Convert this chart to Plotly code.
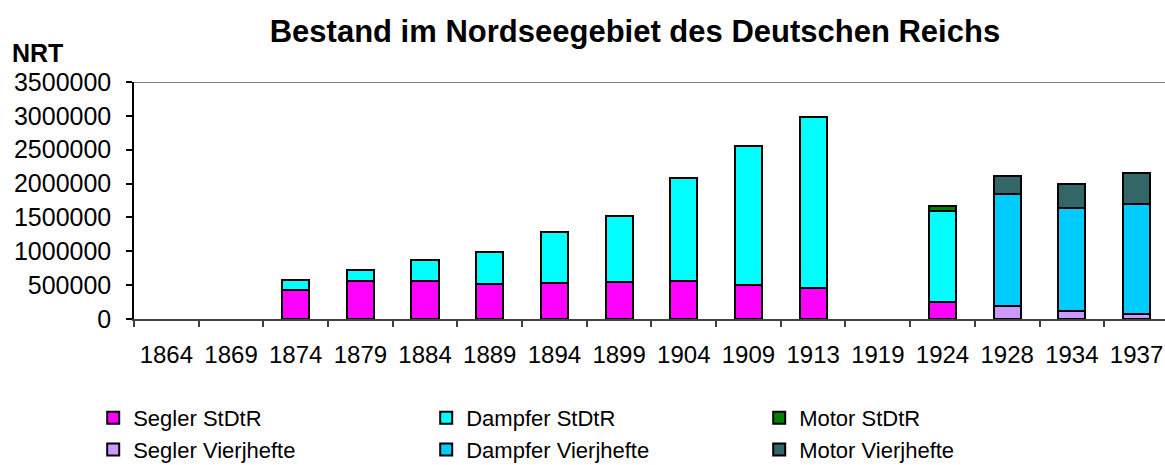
import plotly.graph_objects as go

# Survey years (categories on the x axis)
years = ["1864", "1869", "1874", "1879", "1884", "1889", "1894", "1899",
         "1904", "1909", "1913", "1919", "1924", "1928", "1934", "1937"]

# Tonnage (NRT) by vessel type, Statistik des Deutschen Reichs
segler_stdtr = [None, None, 425000, 560000, 567000, 512000, 537000, 546000,
                557000, 498000, 464000, None, 257000, None, None, None]
dampfer_stdtr = [None, None, 146000, 159000, 300000, 477000, 743000, 971000,
                 1531000, 2063000, 2519000, None, 1333000, None, None, None]
motor_stdtr = [None, None, None, None, None, None, None, None,
               None, None, None, None, 74000, None, None, None]

# Tonnage (NRT) by vessel type, Vierteljahrshefte
segler_vj = [None] * 13 + [188000, 124000, 74000]
dampfer_vj = [None] * 13 + [1658000, 1511000, 1624000]
motor_vj = [None] * 13 + [266000, 359000, 464000]

series = [
    ("Segler StDtR", segler_stdtr, "#FF00FF"),
    ("Dampfer StDtR", dampfer_stdtr, "#00FFFF"),
    ("Motor StDtR", motor_stdtr, "#008000"),
    ("Segler Vierjhefte", segler_vj, "#CC99FF"),
    ("Dampfer Vierjhefte", dampfer_vj, "#00CCFF"),
    ("Motor Vierjhefte", motor_vj, "#336666"),
]

FONT = "Liberation Sans, Arial, sans-serif"

fig = go.Figure()
for name, vals, color in series:
    fig.add_trace(go.Bar(
        x=years, y=vals, name=name,
        marker=dict(color=color, line=dict(color="black", width=2)),
    ))

fig.update_layout(
    width=1165, height=465,
    barmode="stack", bargap=0.58,
    paper_bgcolor="white", plot_bgcolor="white",
    margin=dict(l=134, r=0, t=82, b=146),
    font=dict(family=FONT, size=24, color="black"),
    title=dict(
        text="<b>Bestand im Nordseegebiet des Deutschen Reichs</b>",
        x=0.545, xanchor="center", xref="container",
        y=1 - 31 / 465, yanchor="middle", yref="container",
        font=dict(family=FONT, size=31, color="black"),
    ),
    showlegend=True,
    legend=dict(
        orientation="h", traceorder="normal",
        xref="container", yref="container",
        x=0.08, y=1 - 397 / 465, xanchor="left", yanchor="top",
        entrywidth=288, entrywidthmode="pixels",
        itemwidth=30, itemclick=False,
        font=dict(family=FONT, size=22, color="black"),
        bgcolor="rgba(0,0,0,0)",
    ),
    xaxis=dict(
        type="category", range=[-0.5, 15.44],
        tickson="boundaries", ticks="outside", ticklen=6,
        tickcolor="#404040", tickwidth=1.5,
        showline=True, linecolor="#404040", linewidth=1.5,
        showgrid=False, ticklabelstandoff=13,
        tickfont=dict(family=FONT, size=24, color="black"),
    ),
    yaxis=dict(
        range=[0, 3500000], dtick=500000, tickformat="d",
        ticks="outside", ticklen=6, tickcolor="black", tickwidth=1.5,
        showline=True, linecolor="black", linewidth=1.5,
        showgrid=False, zeroline=False, ticklabelstandoff=10,
        tickfont=dict(family=FONT, size=25, color="black"),
    ),
    annotations=[dict(
        text="<b>NRT</b>", xref="paper", yref="paper",
        x=0, y=1, xshift=-124, yshift=29,
        xanchor="left", yanchor="middle", showarrow=False,
        font=dict(family=FONT, size=25, color="black"),
    )],
    shapes=[dict(
        type="line", xref="paper", yref="y",
        x0=0, x1=1, y0=3500000, y1=3500000,
        line=dict(color="#808080", width=2),
    )],
)

fig.write_html("out.html")
